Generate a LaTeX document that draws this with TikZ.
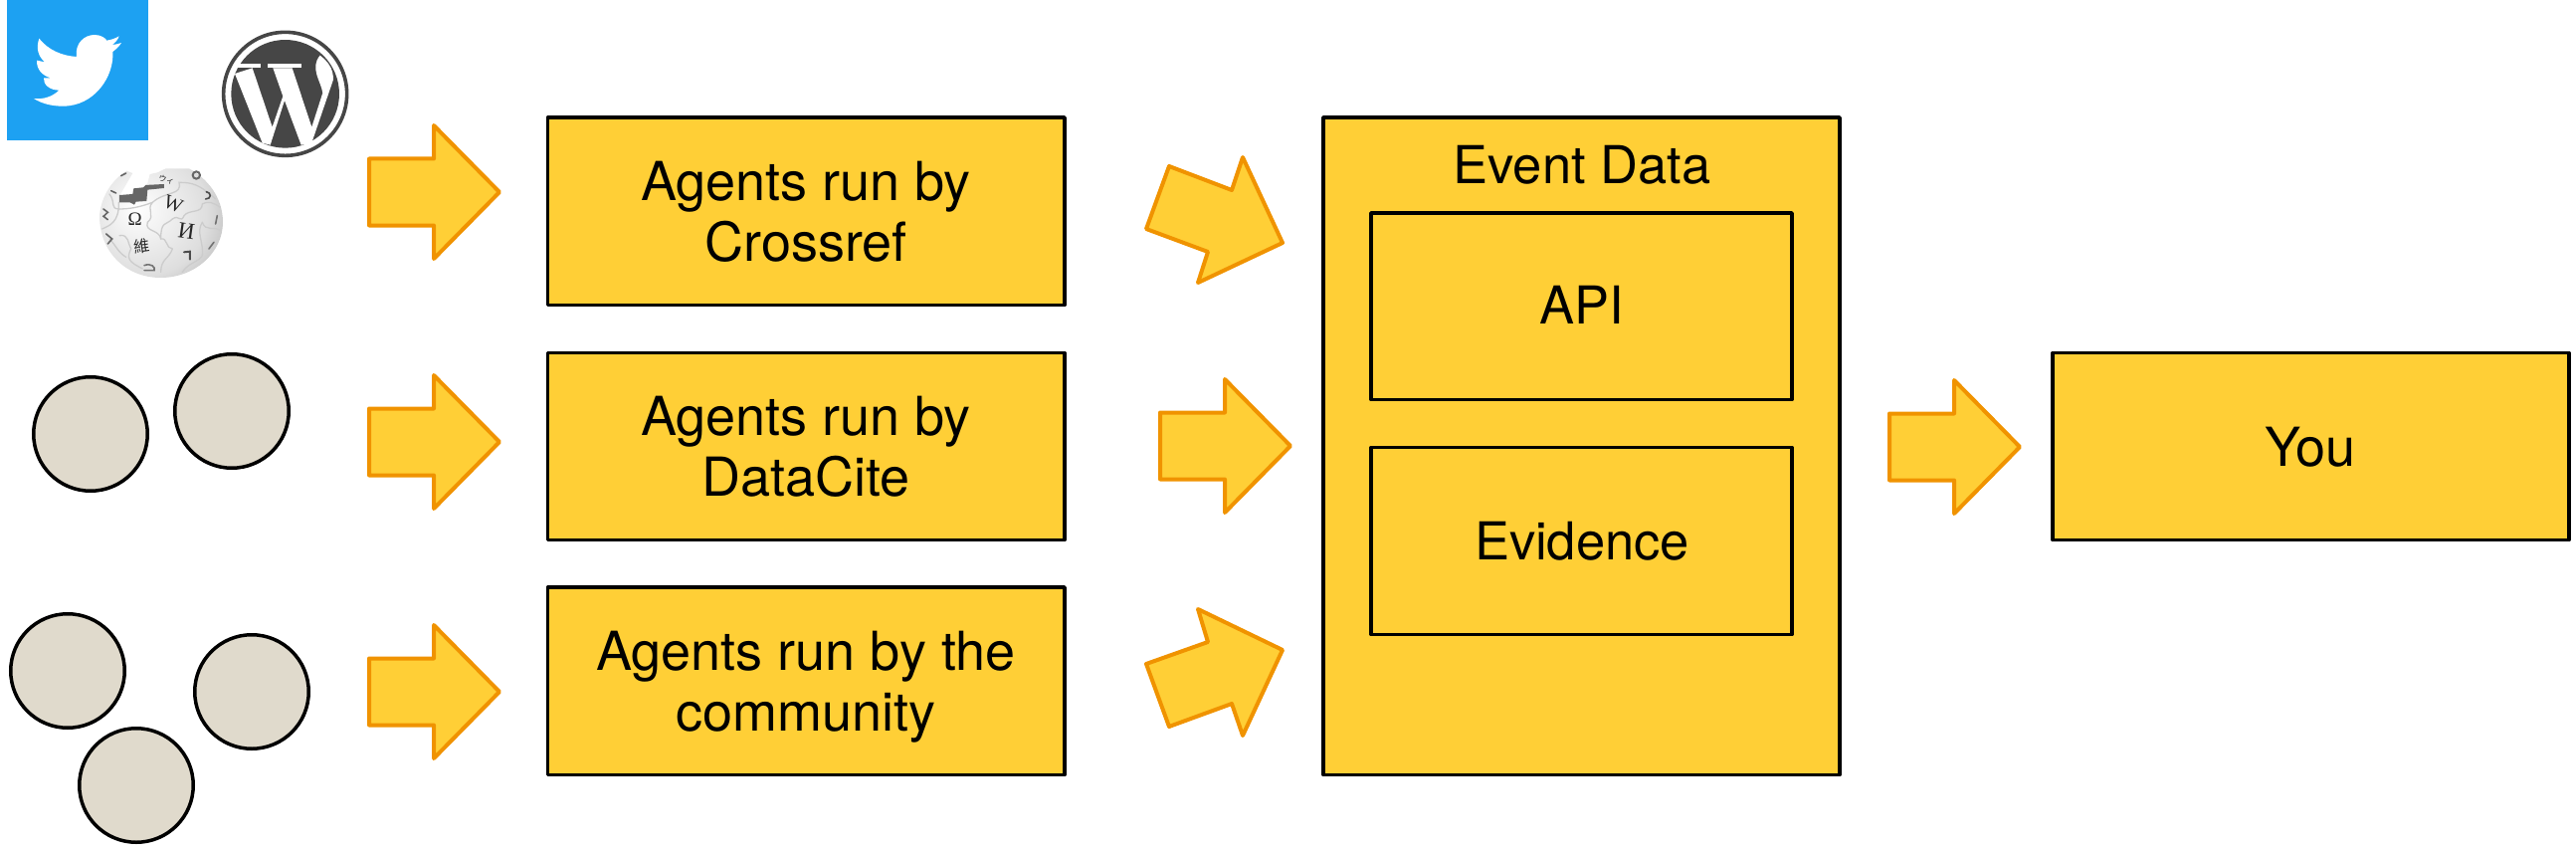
\documentclass[tikz,border=0pt]{standalone}
\usepackage{fontspec}
\setmainfont{TeX Gyre Heros}
\newfontfamily\wikiserif{Liberation Serif}
\newfontfamily\wikicjk{Noto Sans CJK SC}
\definecolor{boxfill}{HTML}{FFCF36}
\definecolor{arrowline}{HTML}{F09300}
\definecolor{twitterblue}{HTML}{1DA1F2}
\definecolor{wpgrey}{HTML}{464646}
\definecolor{discfill}{HTML}{E0DACC}
\definecolor{ballmid}{HTML}{DEDEDE}
\definecolor{ballout}{HTML}{949494}
\pgfdeclareradialshading{wikiball}{\pgfpoint{-10bp}{6bp}}{color(0bp)=(white); color(25bp)=(ballmid); color(48bp)=(ballout); color(70bp)=(ballout!80!black)}
\tikzset{
  x=1pt,y=-1pt,
  yellowbox/.style={draw=black,fill=boxfill,line width=3.5pt,inner sep=0pt,line join=round},
  blockshape/.style={draw=arrowline,fill=boxfill,line width=4pt,line join=round},
  disc/.style={draw=black,fill=discfill,line width=3.5pt,circle,inner sep=0pt,minimum size=114.5pt},
  caption/.style={inner sep=0pt,anchor=base,align=center,font=\fontsize{54}{61}\selectfont},
  smallcaption/.style={inner sep=0pt,anchor=base,font=\fontsize{52.5}{61}\selectfont},
  wikiglyph/.style={inner sep=0pt,text=black!85},
  puzzle/.style={draw=white!80!black,line width=1.3pt,line cap=round}
}
\newcommand{\blockarrow}[2]{\draw[blockshape] (#1+2,#2-33.5) -- ++(65,0) -- ++(0,-33.5) -- ++(66,67) -- ++(-66,67) -- ++(0,-33.5) -- ++(-65,0) -- cycle;}
\newcommand{\ybox}[5]{\node[yellowbox,minimum width=#4pt-#2pt,minimum height=#5pt-#3pt] (#1) at ({(#2+#4)/2},{(#3+#5)/2}) {};}
\begin{document}
\begin{tikzpicture}
\useasboundingbox (0,0) rectangle (2589,856);
% Twitter icon
\fill[twitterblue] (7,0) rectangle (148.7,141.5);
\begin{scope}[x=0.3333pt,y=-0.3333pt]
\fill[white] (102,297) .. controls (130,300) and (158,292) .. (178,272)
 .. controls (150,272) and (130,255) .. (132,235) -- (153,235)
 .. controls (128,228) and (110,210) .. (111,182) -- (135,187)
 .. controls (115,170) and (108,145) .. (118,116)
 .. controls (145,150) and (185,168) .. (231,171)
 .. controls (225,130) and (255,105) .. (285,105)
 .. controls (305,105) and (318,115) .. (322,122)
 .. controls (335,120) and (350,115) .. (359,109)
 .. controls (355,122) and (345,130) .. (338,135)
 .. controls (347,135) and (357,132) .. (366,129)
 .. controls (358,142) and (350,148) .. (340,156)
 .. controls (345,230) and (285,320) .. (190,320)
 .. controls (155,320) and (125,312) .. (102,297) -- cycle;
\end{scope}
% WordPress icon
\begin{scope}[shift={(215,25)},x=0.3333pt,y=-0.3333pt]
\draw[wpgrey,line width=3.6pt] (215,208) circle[radius=186];
\fill[wpgrey] (215,208) circle[radius=163];
\fill[white] (63,147) -- (116,130) -- (176,308) -- (208,215) -- (178,130) -- (236,130) -- (295,308) -- (328,205)
 .. controls (323,170) and (288,130) .. (320,92)
 .. controls (343,110) and (360,130) .. (360,165)
 -- (294,358) -- (263,362) -- (213,228) -- (170,362) -- (146,356) -- cycle;
\fill[white] (70,118) rectangle (140,130);
\fill[white] (163,118) rectangle (263,130);
\end{scope}
% Wikipedia globe
\begin{scope}[shift={(90,160)},x=0.3333pt,y=-0.3333pt]
\begin{scope}
\clip (30,170) .. controls (35,110) and (70,60) .. (112,35) -- (130,42) -- (92,108) -- (130,105) -- (133,88) -- (162,85) -- (175,72) -- (182,45) -- (205,40) -- (230,28) -- (300,28) .. controls (350,55) and (402,110) .. (402,190)
 .. controls (402,280) and (320,357) .. (214,357) .. controls (110,357) and (30,280) .. (30,170) -- cycle;
\shade[shading=wikiball] (216,190) circle[radius=188];
\draw[puzzle] (60,105) .. controls (80,130) and (60,150) .. (90,150);
\draw[puzzle] (88,130) .. controls (90,190) and (60,200) .. (38,210);
\draw[puzzle] (190,130) .. controls (170,150) and (200,170) .. (175,190) .. controls (165,220) and (210,210) .. (215,240) .. controls (235,235) and (230,270) .. (250,270);
\draw[puzzle] (190,130) .. controls (230,95) and (280,110) .. (270,70) .. controls (310,70) and (330,75) .. (380,120);
\draw[puzzle] (285,170) .. controls (300,150) and (340,165) .. (340,135) .. controls (360,125) and (370,130) .. (395,145);
\draw[puzzle] (250,180) .. controls (270,165) and (275,195) .. (285,170);
\draw[puzzle] (250,180) .. controls (230,200) and (215,185) .. (215,240);
\draw[puzzle] (340,190) .. controls (350,220) and (375,200) .. (395,215);
\draw[puzzle] (340,190) .. controls (320,220) and (345,250) .. (340,290) .. controls (330,310) and (300,310) .. (280,340);
\draw[puzzle] (90,230) .. controls (120,225) and (115,255) .. (125,270) .. controls (110,300) and (120,310) .. (160,330);
\draw[puzzle] (60,240) .. controls (80,260) and (85,280) .. (110,295);
\draw[puzzle] (250,270) .. controls (240,300) and (215,300) .. (215,340);
\draw[puzzle] (88,150) .. controls (120,150) and (150,145) .. (190,130);
\fill[black!60] (90,108) -- (130,105) -- (133,88) -- (162,85) -- (165,78) -- (225,75) -- (225,87) -- (175,92) -- (172,126) -- (140,128) -- (135,137) -- (122,130) -- (90,130) -- cycle;
\end{scope}
\node[wikiglyph] (omega) at (137,182) {\wikiserif\fontsize{19}{19}\selectfont Ω};
\node[wikiglyph,rotate=-22] (wglyph) at (253,135) {\wikiserif\fontsize{20}{20}\selectfont W};
\node[wikiglyph,rotate=-8] (iglyph) at (292,218) {\wikiserif\fontsize{23}{23}\selectfont И};
\node[wikiglyph,rotate=8] (weiglyph) at (158,262) {\wikicjk\fontsize{16}{16}\selectfont 維};
\node[wikiglyph,rotate=-15] (viglyph) at (232,62) {\wikicjk\fontsize{8}{8}\selectfont ウィ};
\draw[black!70,line width=2pt,line cap=round] (285,280) -- (303,278) -- (303,302);
\draw[black!70,line width=1.6pt,line cap=round] (352,98) .. controls (368,100) and (368,120) .. (350,120);
\draw[black!60,line width=2pt] (322,48) circle[radius=11];
\draw[black!60,line width=1.6pt,line cap=round] (42,150) -- (55,160) -- (42,172) -- (55,182);
\draw[black!60,line width=1.6pt,line cap=round] (50,225) -- (68,240) -- (55,255);
\draw[black!60,line width=1.6pt,line cap=round] (65,95) -- (80,102) (95,50) -- (110,42);
\draw[black!55,line width=1.6pt,line cap=round] (165,320) .. controls (185,312) and (200,325) .. (195,335) -- (165,335);
\draw[black!55,line width=1.6pt,line cap=round] (385,170) -- (380,195);
\draw[black!55,line width=1.6pt,line cap=round] (375,250) -- (360,270);
\end{scope}
% Discs
\node[disc] (d1) at (91,436) {};
\node[disc] (d2) at (233,413) {};
\node[disc] (d3) at (68,674) {};
\node[disc] (d4) at (253,695) {};
\node[disc] (d5) at (137,789) {};
% Block arrows
\blockarrow{369}{193}
\blockarrow{369}{444}
\blockarrow{369}{695}
\blockarrow{1164}{448}
\blockarrow{1897}{449}
\draw[blockshape] (1175,167) -- (1238,191) -- (1249,158) -- (1289,244) -- (1204,284) -- (1214,253) -- (1152,230) -- cycle;
\draw[blockshape] (1152,667) -- (1214,645) -- (1204,612) -- (1289,653) -- (1249,739) -- (1238,707) -- (1175,730) -- cycle;
% Boxes
\ybox{crossref}{550.5}{118}{1070}{306.5}
\ybox{datacite}{550.5}{354.5}{1070}{542.5}
\ybox{community}{550.5}{590}{1070}{778.5}
\ybox{eventdata}{1330}{118}{1849}{778.5}
\ybox{api}{1378}{214}{1801}{401.5}
\ybox{evidence}{1378}{449.5}{1801}{637.5}
\ybox{you}{2063}{354.5}{2582}{542.5}
% Labels (last line's baseline)
\node[caption] (crossreflabel) at (810,262) {Agents run by\\Crossref};
\node[caption] (datacitelabel) at (810,498) {Agents run by\\DataCite};
\node[caption] (communitylabel) at (810,734) {Agents run by the\\community};
\node[smallcaption] (eventlabel) at (1590,184) {Event Data};
\node[smallcaption] (apilabel) at (1590,325) {API};
\node[smallcaption] (evidencelabel) at (1590,562) {Evidence};
\node[caption] (youlabel) at (2322,468) {You};
\end{tikzpicture}
\end{document}
